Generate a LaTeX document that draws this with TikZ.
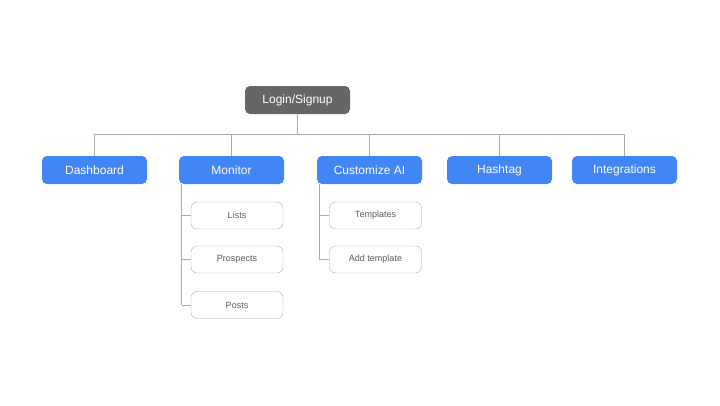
\documentclass[tikz,border=0pt]{standalone}
\usepackage{fontspec}
\setmainfont{Liberation Sans}
\usepackage{tikz}
\usetikzlibrary{positioning,calc}
\definecolor{loginGray}{RGB}{102,102,102}
\definecolor{mainBlue}{RGB}{66,133,244}
\definecolor{lineGray}{RGB}{170,170,170}
\definecolor{subText}{RGB}{90,90,90}
\begin{document}
\begin{tikzpicture}[x=1pt,y=-1pt,
    top/.style={rounded corners=5pt,minimum width=105pt,minimum height=28pt,font=\fontsize{12}{14}\selectfont,
               text=white,inner sep=0pt},
    sub/.style={rounded corners=6pt,minimum width=92pt,minimum height=27pt,font=\fontsize{9}{11}\selectfont,
               text=subText,draw=lineGray,fill=white,inner sep=0pt},
    link/.style={draw=lineGray,line width=0.8pt}
  ]
  \useasboundingbox (0,0) rectangle (720,405);
  \node[top,fill=loginGray] (login) at (297.5,100) {Login/Signup};
  % main sections
  \node[top,fill=mainBlue] (dash) at (94.5,170) {Dashboard};
  \node[top,fill=mainBlue] (mon) at (231.5,170) {Monitor};
  \node[top,fill=mainBlue] (cust) at (369.5,170) {Customize AI};
  \node[top,fill=mainBlue] (hash) at (499.5,170) {Hashtag};
  \node[top,fill=mainBlue] (integ) at (624.5,170) {Integrations};
  % sub pages
  \node[sub] (lists) at (237,215.5) {Lists};
  \node[sub] (prosp) at (237,259.5) {Prospects};
  \node[sub] (posts) at (237,305) {Posts};
  \node[sub] (templ) at (375.5,215.5) {Templates};
  \node[sub] (addt) at (375.5,259.5) {Add template};
  % tree lines
  \coordinate (bus) at (0,134);
  \draw[link] (login.south) -- (login.south |- bus);
  \draw[link] (dash.north |- bus) -- (integ.north |- bus);
  \foreach \n in {dash,mon,cust,hash,integ}
    \draw[link] (\n.north |- bus) -- (\n.north);
  \coordinate (monL) at ([xshift=3pt]mon.south west);
  \coordinate (custL) at ([xshift=3pt]cust.south west);
  \draw[link] (monL) -- (monL |- posts.west);
  \foreach \n in {lists,prosp,posts}
    \draw[link] (monL |- \n.west) -- (\n.west);
  \draw[link] (custL) -- (custL |- addt.west);
  \foreach \n in {templ,addt}
    \draw[link] (custL |- \n.west) -- (\n.west);
\end{tikzpicture}
\end{document}
